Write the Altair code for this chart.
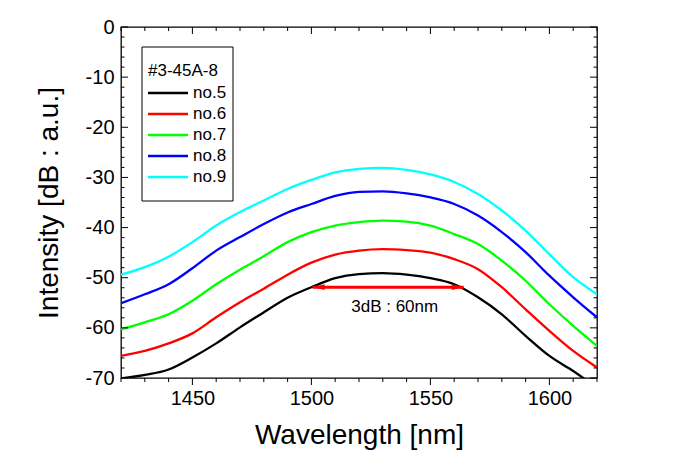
import altair as alt
import pandas as pd

# ---------------- data ----------------
wavelength = [1420, 1430, 1440, 1450, 1460, 1470, 1480, 1490, 1500, 1510, 1520,
              1530, 1540, 1550, 1560, 1570, 1580, 1590, 1600, 1610, 1620]
no5 = [-70.1, -69.4, -68.3, -65.9, -63.1, -59.9, -56.9, -54.0, -51.9, -50.1, -49.3,
       -49.1, -49.4, -50.1, -51.3, -53.9, -57.3, -61.6, -65.6, -68.6, -72.0]
no6 = [-65.6, -64.6, -63.1, -61.1, -57.9, -54.9, -52.2, -49.4, -47.0, -45.4, -44.6,
       -44.3, -44.5, -45.0, -46.3, -48.3, -51.9, -56.3, -60.6, -64.6, -67.9]
no7 = [-60.3, -58.9, -57.3, -54.6, -51.3, -48.4, -45.7, -42.9, -40.9, -39.6, -38.9,
       -38.6, -38.8, -39.6, -41.3, -43.3, -46.6, -50.6, -55.3, -59.6, -63.6]
no8 = [-55.1, -53.3, -51.3, -48.1, -44.6, -41.9, -39.3, -37.0, -35.3, -33.7, -32.9,
       -32.8, -33.2, -34.0, -35.3, -37.6, -40.9, -44.9, -49.6, -53.9, -57.9]
no9 = [-49.4, -47.9, -45.8, -42.9, -39.6, -36.9, -34.6, -32.3, -30.5, -29.0, -28.3,
       -28.1, -28.5, -29.4, -30.9, -33.3, -36.6, -40.6, -45.3, -49.9, -53.3]

series_names = ["no.5", "no.6", "no.7", "no.8", "no.9"]
series_colors = ["#000000", "#ff0000", "#00ff00", "#0000ff", "#00ffff"]
legend_title = "#3-45A-8"

x_major = [1450, 1500, 1550, 1600]
x_minor = [1420, 1430, 1440, 1460, 1470, 1480, 1490, 1510, 1520, 1530, 1540,
           1560, 1570, 1580, 1590, 1610, 1620]
y_major = [0, -10, -20, -30, -40, -50, -60, -70]
y_minor = [-2, -4, -6, -8, -12, -14, -16, -18, -22, -24, -26, -28, -32, -34, -36, -38,
           -42, -44, -46, -48, -52, -54, -56, -58, -62, -64, -66, -68]

arrow_start = 1500.5
arrow_end = 1564.0
arrow_level = -51.9
note_text = "3dB : 60nm"
note_x = 1535
note_y = -55.9

x_title = "Wavelength [nm]"
y_title = "Intensity [dB : a.u.]"

# ---------------- build ----------------
W, H = 476, 351
FONT = "Liberation Sans"

series_values = [no5, no6, no7, no8, no9]
rows = []
for name, vals in zip(series_names, series_values):
    for wl, v in zip(wavelength, vals):
        rows.append({"wl": wl, "val": v, "series": name})
df = pd.DataFrame(rows)

x_scale = alt.Scale(domain=[1420, 1620], nice=False, zero=False)
y_scale = alt.Scale(domain=[-70, 0], nice=False, zero=False)
x_axis = alt.Axis(values=x_major, title=x_title, ticks=False, tickSize=0,
                  labelPadding=10, titlePadding=13, labelExpr="'' + datum.value",
                  grid=False, domain=False)
y_axis = alt.Axis(values=y_major, title=y_title, ticks=False, tickSize=0,
                  labelPadding=7, titlePadding=22, labelExpr="'' + datum.value",
                  grid=False, domain=False)


def X(field):
    return alt.X(field, scale=x_scale, axis=x_axis)


def Y(field):
    return alt.Y(field, scale=y_scale, axis=y_axis)


lines = alt.Chart(df).mark_line(clip=True, strokeWidth=2.3, interpolate="monotone").encode(
    x=X("wl:Q"),
    y=Y("val:Q"),
    color=alt.Color("series:N", scale=alt.Scale(domain=series_names, range=series_colors),
                    legend=None),
)


def xticks(vals, y0, y1):
    return alt.Chart(pd.DataFrame({"t": vals})).mark_rule(color="black", strokeWidth=1).encode(
        x=X("t:Q"), y=alt.value(y0), y2=alt.value(y1))


def yticks(vals, x0, x1):
    return alt.Chart(pd.DataFrame({"t": vals})).mark_rule(color="black", strokeWidth=1).encode(
        y=Y("t:Q"), x=alt.value(x0), x2=alt.value(x1))


ticks = [
    xticks(x_major, H, H + 7), xticks(x_minor, H, H + 4),
    xticks(x_major, 0, 7), xticks(x_minor, 0, 4),
    yticks(y_major, 0, 7), yticks(y_minor, 0, 3.5),
    yticks(y_major, W, W - 7), yticks(y_minor, W, W - 3.5),
]

# arrow annotation
arrow_df = pd.DataFrame({"x": [arrow_start, arrow_end], "y": [arrow_level, arrow_level]})
arrow_line = alt.Chart(arrow_df).mark_line(color="#ff0000", strokeWidth=3).encode(
    x=X("x:Q"), y=Y("y:Q"))
left_head = alt.Chart(pd.DataFrame({"x": [arrow_start], "y": [arrow_level]})).mark_point(
    shape="M -1 0 L 1 -0.48 L 1 0.48 Z", filled=True, color="#ff0000", opacity=1,
    size=144, xOffset=6).encode(x=X("x:Q"), y=Y("y:Q"))
right_head = alt.Chart(pd.DataFrame({"x": [arrow_end], "y": [arrow_level]})).mark_point(
    shape="M 1 0 L -1 -0.48 L -1 0.48 Z", filled=True, color="#ff0000", opacity=1,
    size=144, xOffset=-6).encode(x=X("x:Q"), y=Y("y:Q"))
note = alt.Chart(pd.DataFrame({"x": [note_x], "y": [note_y], "t": [note_text]})).mark_text(
    font=FONT, fontSize=17, color="black", align="center", baseline="middle").encode(
    x=X("x:Q"), y=Y("y:Q"), text="t:N")

# manual legend box
one = pd.DataFrame({"k": [0]})
legend_layers = [
    alt.Chart(one).mark_rect(fill="white", stroke="black", strokeWidth=1).encode(
        x=alt.value(21), x2=alt.value(112), y=alt.value(20), y2=alt.value(174)),
    alt.Chart(pd.DataFrame({"t": [legend_title]})).mark_text(
        font=FONT, fontSize=17, color="black", align="left", baseline="middle").encode(
        x=alt.value(27), y=alt.value(44), text="t:N"),
]
for i, (name, col) in enumerate(zip(series_names, series_colors)):
    yy = 66 + 21 * i
    legend_layers.append(
        alt.Chart(pd.DataFrame({"t": [name]})).mark_rule(color=col, strokeWidth=2.5).encode(
            x=alt.value(27), x2=alt.value(67), y=alt.value(yy)))
    legend_layers.append(
        alt.Chart(pd.DataFrame({"t": [name]})).mark_text(
            font=FONT, fontSize=17, color="black", align="left", baseline="middle").encode(
            x=alt.value(72), y=alt.value(yy), text="t:N"))

chart = alt.layer(
    lines, *ticks, arrow_line, left_head, right_head, note, *legend_layers
).properties(
    width=W, height=H,
    padding={"left": 113, "top": 19, "right": 60, "bottom": 78},
    autosize=alt.AutoSizeParams(type="none"),
).configure_view(
    stroke="black", strokeWidth=1.3
).configure_axis(
    labelFont=FONT, labelFontSize=20, labelColor="black",
    titleFont=FONT, titleFontSize=28, titleColor="black", titleFontWeight="normal",
)

chart.save("out.html", embed_options={"renderer": "svg", "actions": False})
